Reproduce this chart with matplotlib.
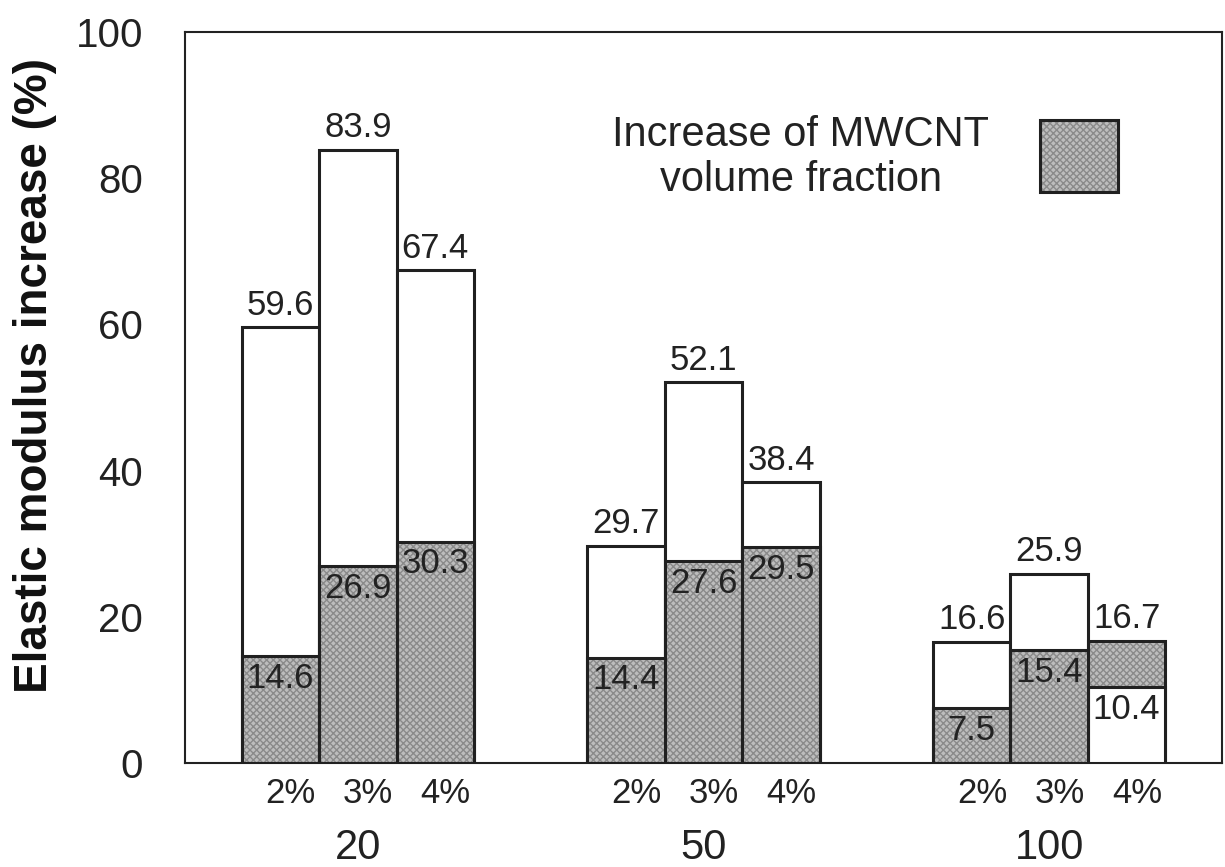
import matplotlib
matplotlib.use("Agg")
import matplotlib.pyplot as plt
from matplotlib.patches import Rectangle
import numpy as np

groups = ["20", "50", "100"]
fractions = ["2%", "3%", "4%"]
total_increase = [[59.6, 83.9, 67.4], [29.7, 52.1, 38.4], [16.6, 25.9, 10.4]]
mwcnt_increase = [[14.6, 26.9, 30.3], [14.4, 27.6, 29.5], [7.5, 15.4, 16.7]]

plt.rcParams["font.family"] = ["Liberation Sans", "DejaVu Sans"]

fig = plt.figure(figsize=(12.25, 8.67), dpi=100)
ax = fig.add_axes([185 / 1225, 1 - 763 / 867, (1222 - 185) / 1225, (763 - 32) / 867])

width = 0.224
gray = "#bdbdbd"
hatch_col = "#8a8a8a"

xt, xl = [], []
for gi, g in enumerate(groups):
    for fi, f in enumerate(fractions):
        x = gi + (fi - 1) * width
        tv = total_increase[gi][fi]
        mv = mwcnt_increase[gi][fi]
        xt.append(x + 0.03)
        xl.append(f)
        # draw the taller one first
        items = [("white", tv), ("gray", mv)]
        items.sort(key=lambda it: -it[1])
        for k, (kind, v) in enumerate(items):
            if kind == "gray":
                ax.bar(x, v, width, color=gray, hatch="xxxxx", edgecolor=hatch_col,
                       linewidth=0, zorder=2 + k)
                ax.bar(x, v, width, fill=False, edgecolor="#202020",
                       linewidth=2.2, zorder=2.5 + k)
            else:
                ax.bar(x, v, width, color="white", edgecolor="#202020",
                       linewidth=2.2, zorder=2 + k)
            if k == 0:
                ax.annotate(f"{v:.1f}", (x, v), xytext=(0, 4), textcoords="offset points",
                            ha="center", va="bottom", fontsize=25, color="#222222", zorder=10)
            else:
                ax.annotate(f"{v:.1f}", (x, v), xytext=(0, -4), textcoords="offset points",
                            ha="center", va="top", fontsize=25, color="#222222", zorder=10)

ax.set_xlim(-0.5, 2.5)
ax.set_ylim(0, 100)
ax.set_yticks([0, 20, 40, 60, 80, 100])
ax.tick_params(axis="y", length=0, pad=30, labelsize=29)
ax.set_xticks(xt)
ax.set_xticklabels(xl)
ax.tick_params(axis="x", length=0, pad=10, labelsize=25)
for lab in ax.get_yticklabels() + ax.get_xticklabels():
    lab.set_color("#222222")

for gi, g in enumerate(groups):
    ax.annotate(g, (gi, 0), xycoords=("data", "axes fraction"), xytext=(0, -47),
                textcoords="offset points", ha="center", va="top", fontsize=30,
                color="#222222")

ax.set_ylabel("Elastic modulus increase (%)", fontsize=33, fontweight="bold",
              color="#111111")
ax.yaxis.set_label_coords(-0.123, 0.53)

for s in ax.spines.values():
    s.set_linewidth(1.5)
    s.set_color("#222222")

# legend-like annotation
ax.text(0.594, 0.828, "Increase of MWCNT\nvolume fraction", transform=ax.transAxes,
        ha="center", va="center", fontsize=30, color="#222222", linespacing=1.15)
x0 = (1040 - 185) / 1037
y0 = (763 - 192) / 731
wr = 78 / 1037
hr = 72 / 731
ax.add_patch(Rectangle((x0, y0), wr, hr, transform=ax.transAxes, facecolor=gray,
                       hatch="xxxxx", edgecolor=hatch_col, linewidth=0, zorder=5))
ax.add_patch(Rectangle((x0, y0), wr, hr, transform=ax.transAxes, fill=False,
                       edgecolor="#202020", linewidth=2.2, zorder=6))

fig.savefig("out.png", dpi=100)
